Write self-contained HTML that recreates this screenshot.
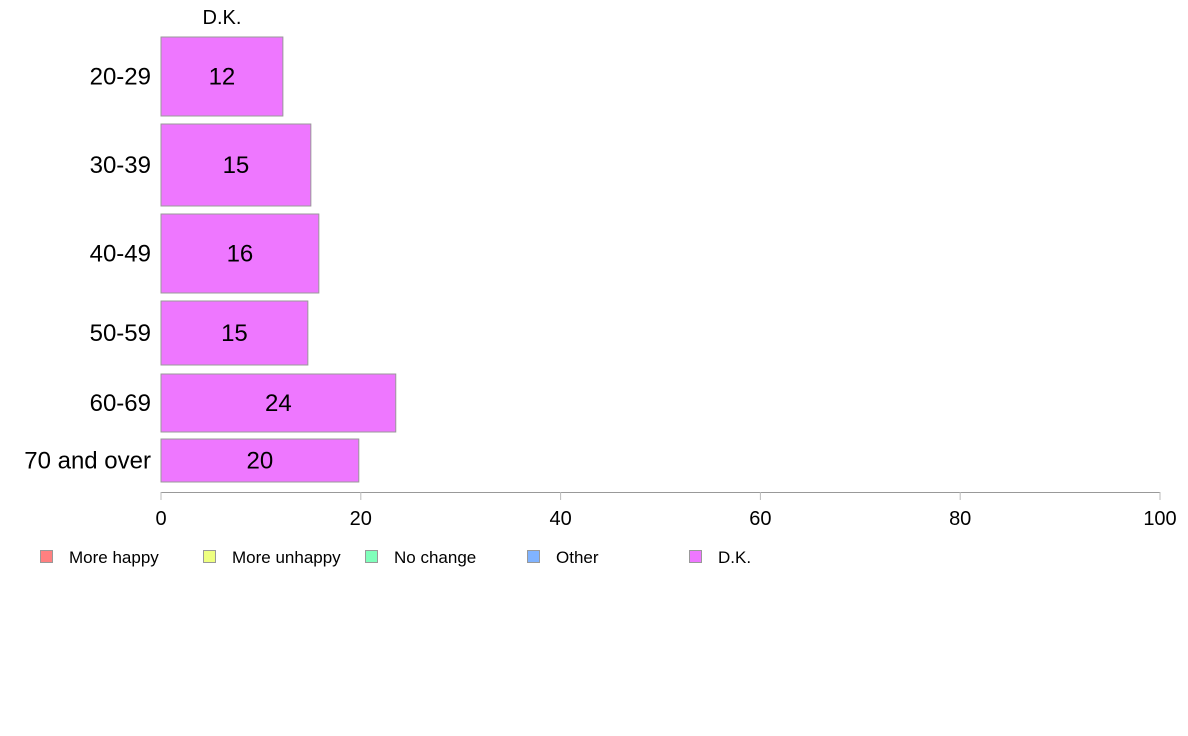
<!DOCTYPE html>
<html><head><meta charset="utf-8"><style>
body{margin:0;background:#fff;}
svg{display:block;font-family:"Liberation Sans",Arial,sans-serif;}
</style></head><body>
<svg id="chart" width="1188" height="736" viewBox="0 0 1188 736" xmlns="http://www.w3.org/2000/svg">
<text x="222" y="24" font-size="20" text-anchor="middle">D.K.</text>
<g id="bars"></g>
<g id="axis"></g>
<g id="legend"></g>
</svg>
<script>
const categories = ["20-29","30-39","40-49","50-59","60-69","70 and over"];
const values = [12.2, 15.0, 15.8, 14.7, 23.5, 19.8];
const valueLabels = ["12","15","16","15","24","20"];
const ticks = [0,20,40,60,80,100];
const legendItems = ["More happy","More unhappy","No change","Other","D.K."];
const legendColors = ["#ff8080","#eeff80","#80ffbb","#80b3ff","#ee77ff"];
// layout (bar bands, pixels)
const bandTop = [37,124,214,301,374,439];
const bandBottom = [116,206,293,365,432,482];
const NS="http://www.w3.org/2000/svg";
const x0=161, x1=1160;
function xs(v){return x0+(v/100)*(x1-x0);}
function mk(tag,attrs,parent){const e=document.createElementNS(NS,tag);for(const k in attrs)e.setAttribute(k,attrs[k]);parent.appendChild(e);return e;}
const bars=document.getElementById('bars');
categories.forEach((c,i)=>{
  const r=mk('rect',{x:x0,y:bandTop[i],width:xs(values[i])-x0,height:bandBottom[i]-bandTop[i],fill:'#ee77ff',stroke:'#999','stroke-width':1},bars);
  
  
  const cy=(bandTop[i]+bandBottom[i])/2;
  const t=mk('text',{x:(x0+xs(values[i]))/2,y:cy+8,'font-size':24,'text-anchor':'middle'},bars);
  t.textContent=valueLabels[i];
  
  
  const l=mk('text',{x:151,y:cy+8,'font-size':24,'text-anchor':'end'},bars);
  l.textContent=c;
  
  
});
const ax=document.getElementById('axis');
const line=mk('line',{x1:x0,x2:x1,y1:492.5,y2:492.5,stroke:'#999','stroke-width':1},ax);


ticks.forEach(v=>{
  const tk=mk('line',{x1:xs(v),x2:xs(v),y1:492,y2:500,stroke:'#bbb','stroke-width':1},ax);
  
  
  const tl=mk('text',{x:xs(v),y:525,'font-size':20,'text-anchor':'middle'},ax);
  tl.textContent=v;
  
  
});
const lg=document.getElementById('legend');
const lgX=[40,203,365,527,689];
legendItems.forEach((n,i)=>{
  const s=mk('rect',{x:lgX[i]+0.5,y:550.5,width:12,height:12,fill:legendColors[i],stroke:'#999','stroke-width':1},lg);
  
  
  const t=mk('text',{x:lgX[i]+29,y:563,'font-size':17},lg);
  t.textContent=n;
  
  
});
</script>
</body></html>
